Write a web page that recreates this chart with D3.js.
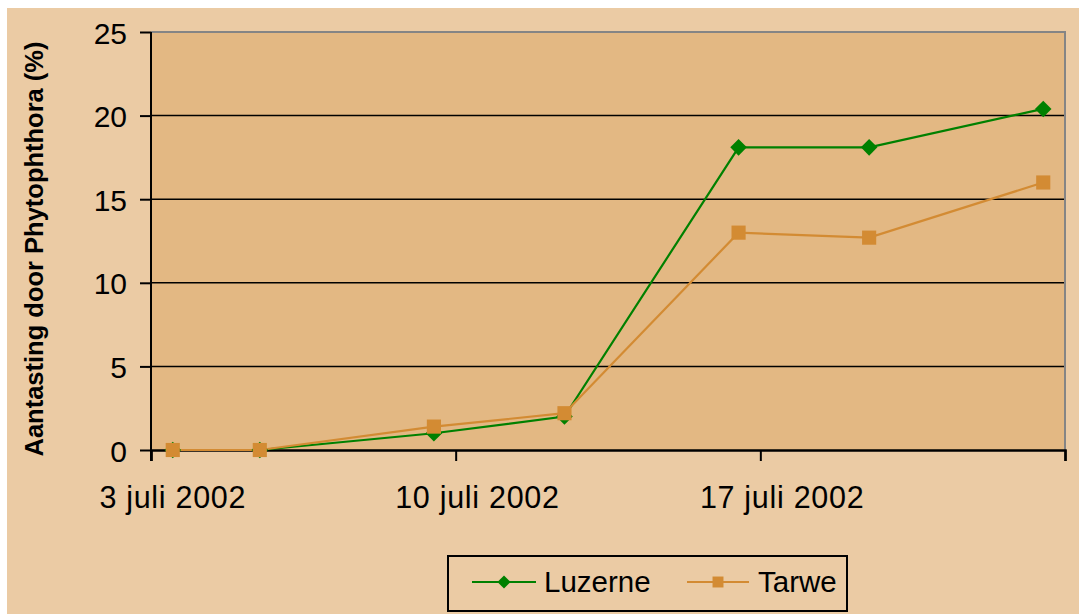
<!DOCTYPE html>
<html>
<head>
<meta charset="utf-8">
<script src="https://cdn.jsdelivr.net/npm/d3@7"></script>
<style>
html, body { margin: 0; padding: 0; background: #ffffff; }
svg { display: block; }
text { font-family: "Liberation Sans", Arial, sans-serif; fill: #000; }
</style>
</head>
<body>
<svg id="chart" width="1079" height="614"></svg>
<script>
// ---- data ----
const dates = ["2002-07-03", "2002-07-05", "2002-07-09", "2002-07-12", "2002-07-16", "2002-07-19", "2002-07-23"];
const luzerne = [0, 0, 1.0, 2.0, 18.1, 18.1, 20.4];
const tarwe = [0, 0, 1.4, 2.2, 13.0, 12.7, 16.0];
const seriesNames = ["Luzerne", "Tarwe"];
const xTickDates = ["2002-07-03", "2002-07-10", "2002-07-17", "2002-07-24"];
const xTickLabels = ["3 juli 2002", "10 juli 2002", "17 juli 2002", ""];
const yTicks = [0, 5, 10, 15, 20, 25];
const yTitle = "Aantasting door Phytophthora (%)";

(function () {
// ---- layout ----
const svg = d3.select("#chart");
const outerBg = "#EBCBA4";
const plotBg = "#E3B883";
const green = "#008000";
const orange = "#D38B33";
const pl = 151, pr = 1065, pt = 32, pb = 450;

const parse = d3.utcParse("%Y-%m-%d");
const halfDay = 12 * 3600 * 1000;
const x = d3.scaleUtc()
  .domain([parse(xTickDates[0]), parse(xTickDates[xTickDates.length - 1])])
  .range([pl, pr]);
const y = d3.scaleLinear().domain([0, 25]).range([pb, pt]);

svg.append("rect").attr("x", 7).attr("y", 8).attr("width", 1079 - 7).attr("height", 614 - 8).attr("fill", outerBg);
svg.append("rect").attr("x", pl).attr("y", pt).attr("width", pr - pl).attr("height", pb - pt).attr("fill", plotBg);

// gridlines
svg.append("g").selectAll("line").data(yTicks.filter(d => d > 0 && d < 25)).join("line")
  .attr("x1", pl).attr("x2", pr)
  .attr("y1", d => y(d)).attr("y2", d => y(d))
  .attr("stroke", "#000").attr("stroke-width", 1.5);

// plot border top/right (gray)
svg.append("path")
  .attr("d", `M${pl},${y(25)}H${pr}V${pb}`)
  .attr("fill", "none").attr("stroke", "#858585").attr("stroke-width", 2);

// y axis
const yAxis = d3.axisLeft(y).tickValues(yTicks).tickSize(11).tickPadding(13).tickFormat(d3.format("d"));
const gy = svg.append("g").attr("transform", `translate(${pl},0)`).call(yAxis);
gy.select(".domain").remove();
gy.selectAll(".tick line").attr("stroke", "#000").attr("stroke-width", 2);
gy.selectAll(".tick text").attr("font-size", 30).attr("dy", "0.37em")
  .style("font-family", "'Liberation Sans', Arial, sans-serif").attr("fill", "#000");
svg.append("line").attr("x1", pl).attr("x2", pl).attr("y1", pt).attr("y2", pb + 11)
  .attr("stroke", "#000").attr("stroke-width", 2);

// x axis
const xAxis = d3.axisBottom(x).tickValues(xTickDates.map(parse)).tickSize(11).tickFormat("");
const gx = svg.append("g").attr("transform", `translate(0,${pb})`).call(xAxis);
gx.select(".domain").attr("stroke", "#000").attr("stroke-width", 2.5);
gx.selectAll(".tick line").attr("stroke", "#000").attr("stroke-width", 2);
svg.append("g").selectAll("text").data(xTickDates.map((d, i) => [d, xTickLabels[i]]).filter(d => d[1])).join("text")
  .attr("x", d => x(new Date(parse(d[0]).getTime() + halfDay)))
  .attr("y", 508)
  .attr("text-anchor", "middle")
  .attr("font-size", 30.5)
  .style("letter-spacing", "0.7px")
  .text(d => d[1]);

// y title
svg.append("text")
  .attr("transform", `translate(43,249) rotate(-90)`)
  .attr("text-anchor", "middle")
  .attr("font-size", 25.5)
  .attr("font-weight", "bold")
  .text(yTitle);

// lines
const series = [
  { name: seriesNames[0], values: luzerne, color: green, symbol: d3.symbolDiamond2 },
  { name: seriesNames[1], values: tarwe, color: orange, symbol: d3.symbolSquare }
];
const xPos = d => x(new Date(parse(d).getTime() + halfDay));
const line = d3.line().x(d => xPos(d[0])).y(d => y(d[1]));

series.forEach(s => {
  const pts = dates.map((d, i) => [d, s.values[i]]);
  svg.append("path").datum(pts).attr("d", line)
    .attr("fill", "none").attr("stroke", s.color).attr("stroke-width", 2.2);
});
series.forEach(s => {
  const pts = dates.map((d, i) => [d, s.values[i]]);
  const size = s.symbol === d3.symbolSquare ? 200 : 175;
  svg.append("g").selectAll("path").data(pts).join("path")
    .attr("transform", d => `translate(${xPos(d[0])},${y(d[1])})`)
    .attr("d", d3.symbol().type(s.symbol).size(size))
    .attr("fill", s.color);
});

// legend
const lg = svg.append("g");
lg.append("rect").attr("x", 448).attr("y", 556).attr("width", 399).attr("height", 55)
  .attr("fill", "none").attr("stroke", "#000").attr("stroke-width", 2);
const legendItems = [
  { s: series[0], x0: 472, x1: 536, tx: 544 },
  { s: series[1], x0: 687, x1: 749, tx: 758 }
];
legendItems.forEach(it => {
  lg.append("line").attr("x1", it.x0).attr("x2", it.x1).attr("y1", 582).attr("y2", 582)
    .attr("stroke", it.s.color).attr("stroke-width", 2);
  const size = it.s.symbol === d3.symbolSquare ? 120 : 110;
  lg.append("path").attr("transform", `translate(${(it.x0 + it.x1) / 2},582)`)
    .attr("d", d3.symbol().type(it.s.symbol).size(size)).attr("fill", it.s.color);
  lg.append("text").attr("x", it.tx).attr("y", 592).attr("font-size", 29.5).text(it.s.name);
});
})();
</script>
</body>
</html>
